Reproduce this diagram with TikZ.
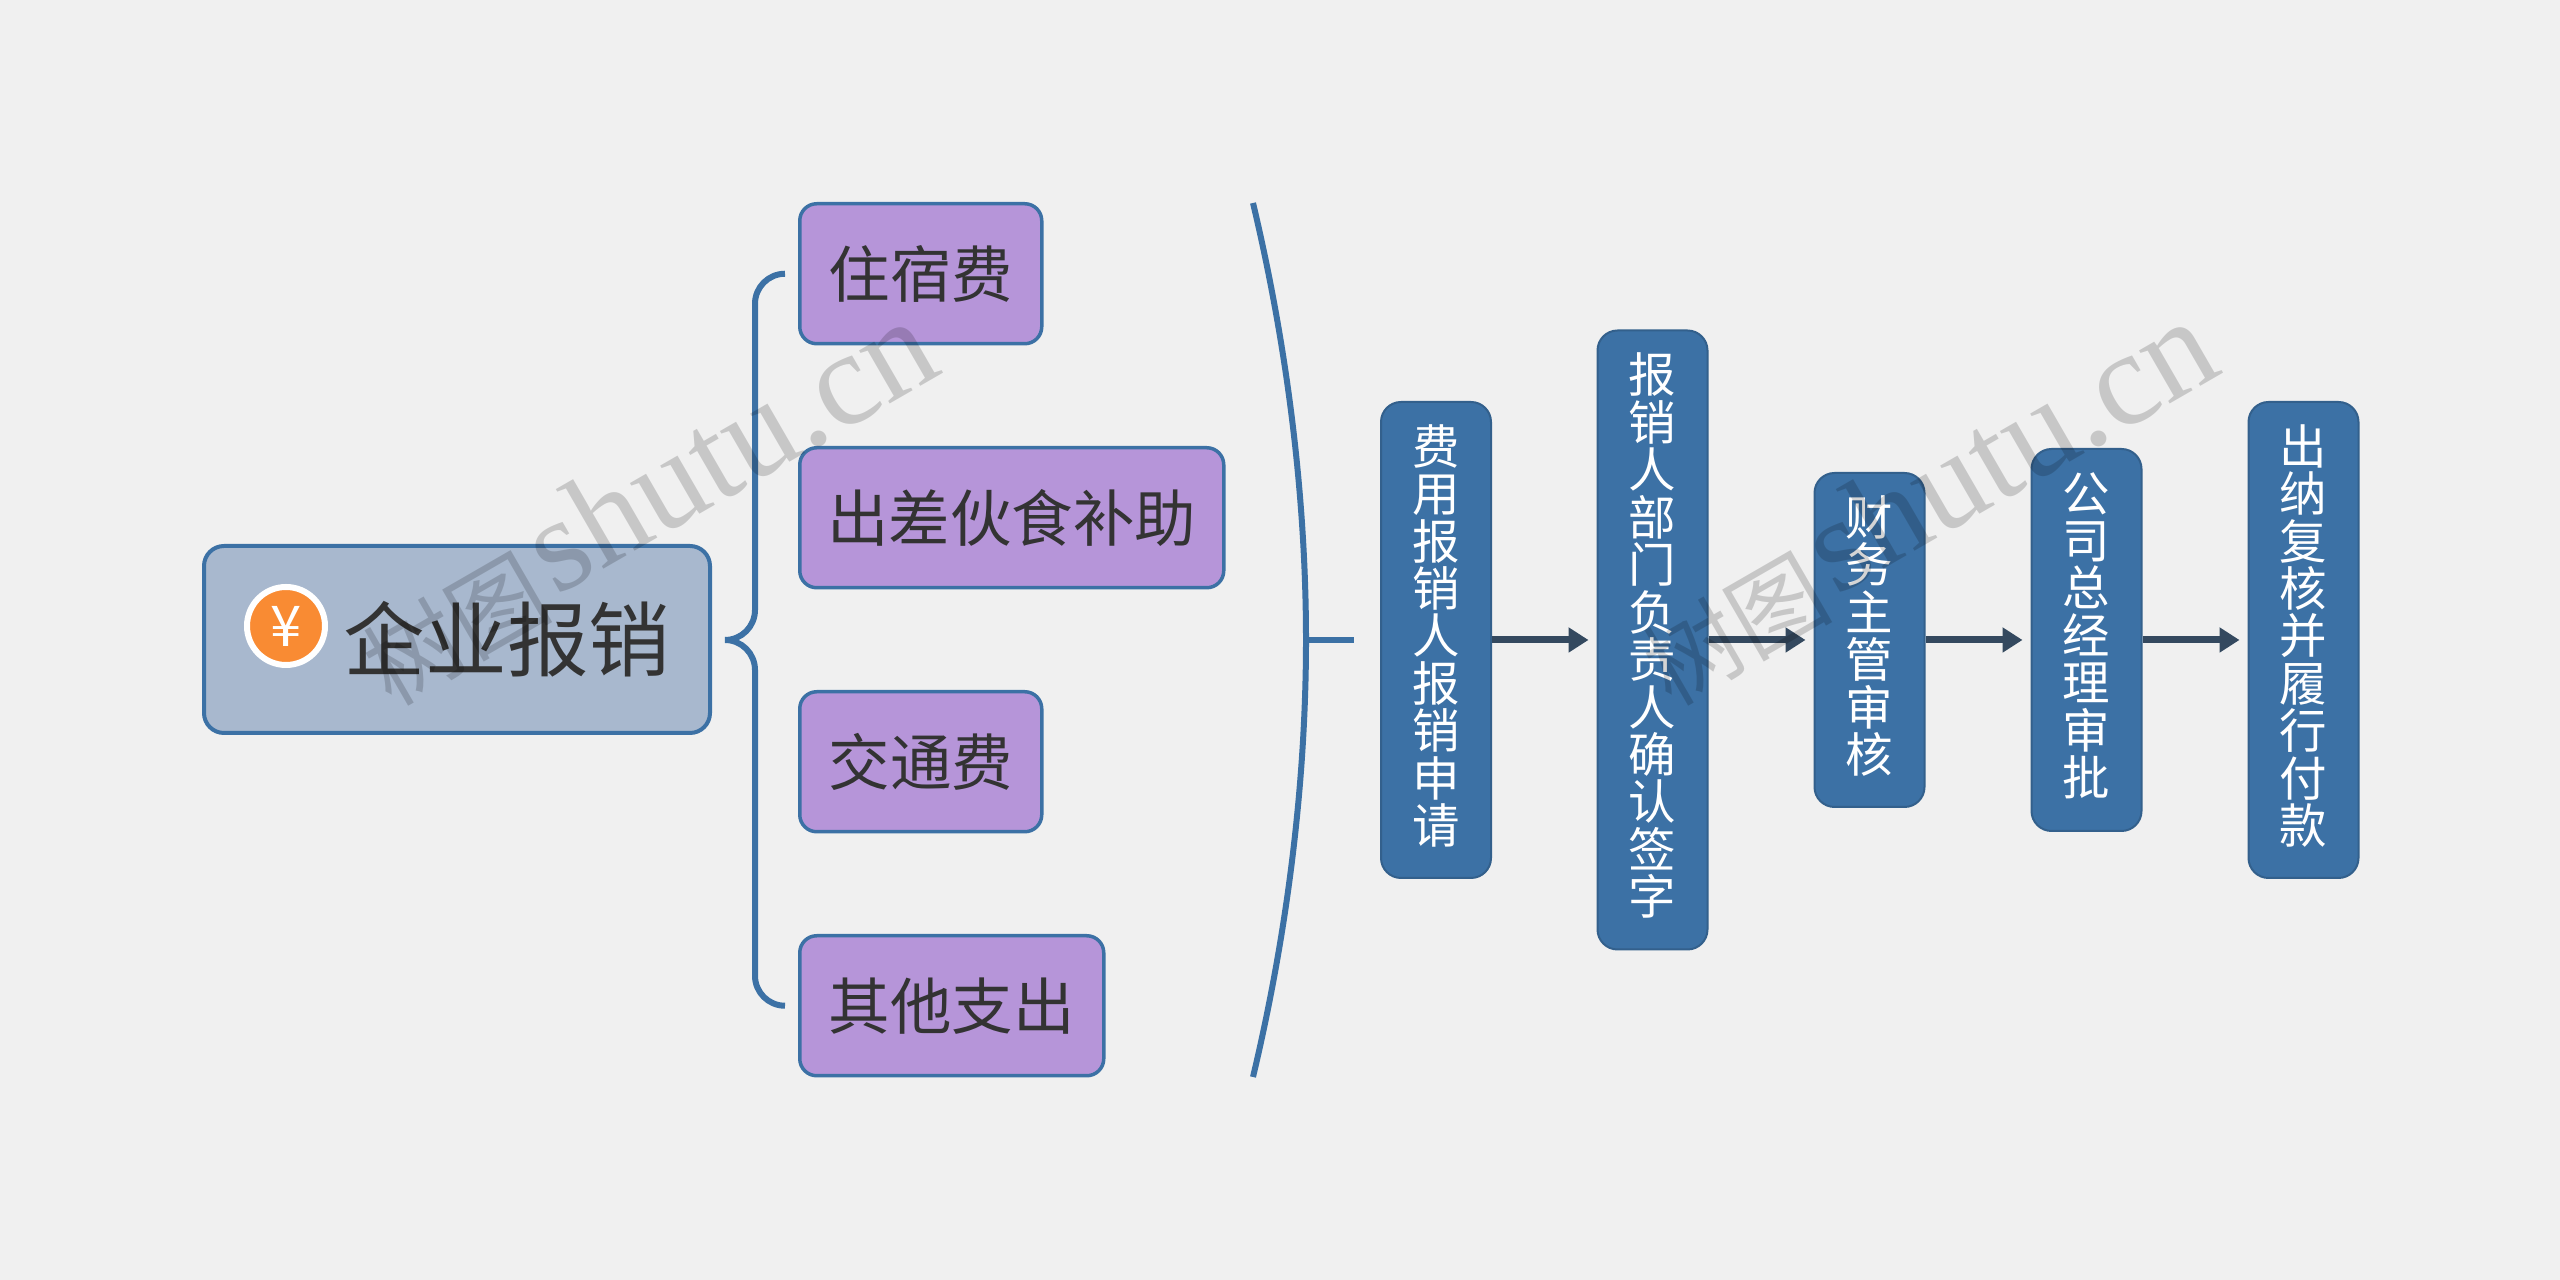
\documentclass[tikz,border=0pt]{standalone}
\usepackage{fontspec}
\setmainfont{Noto Sans CJK SC}
\newfontfamily\markfont{Liberation Serif}
\usetikzlibrary{arrows.meta}
\definecolor{pagebg}{HTML}{F0F0F0}
\definecolor{linkblue}{HTML}{3C71A5}
\definecolor{rootfill}{HTML}{A8B8CE}
\definecolor{itemfill}{HTML}{B695D9}
\definecolor{arrowdark}{HTML}{34495F}
\definecolor{inkdark}{HTML}{333333}
\definecolor{iconorange}{HTML}{F98B33}
\newcommand{\vtext}{\fontsize{13.5}{13.5}\selectfont}
\newcommand{\marktext}{{\rmfamily\fontsize{27}{27}\selectfont\raisebox{-0.13cm}{树图}}\hspace{-0.25cm} shutu.cn}
\begin{document}
\begin{tikzpicture}[x=1cm,y=1cm,>=stealth]
\tikzset{
    rootbox/.style={draw=linkblue,line width=0.4mm,rounded corners=0.2cm,fill=rootfill,minimum width=5.06cm,minimum height=1.87cm,anchor=north west},
    itembox/.style={draw=linkblue,line width=0.35mm,rounded corners=0.17cm,fill=itemfill,minimum height=1.4cm,anchor=north west,inner sep=0pt,text=inkdark,font=\fontsize{17.5}{17.5}\selectfont},
    stepbox/.style={draw=linkblue!85!black,line width=0.2mm,rounded corners=0.2cm,fill=linkblue,minimum width=1.1cm,inner sep=0pt,text=white,align=center,font=\vtext,execute at end node={\rule[-0.12cm]{0pt}{0pt}}},
    link/.style={draw=linkblue,line width=0.6mm},
    flow/.style={-{Triangle[length=0.2cm,width=0.24cm]},draw=arrowdark,line width=0.7mm,shorten >=0.08cm},
    wmark/.style={text=black,opacity=0.17,rotate=30,anchor=base east,inner sep=0pt,font=\markfont\fontsize{38}{38}\selectfont}
}
\fill[pagebg] (0,0) rectangle (25.6,-12.8);
\useasboundingbox (0,0) rectangle (25.6,-12.8);

% central topic
\node[rootbox] (root) at (2.02,-5.44) {};
\node[circle,draw=white,line width=0.6mm,fill=iconorange,minimum size=0.78cm,inner sep=0pt,text=white,font=\fontsize{16}{16}\selectfont] (icon) at (2.86,-6.26) {¥};
\node[text=inkdark,inner sep=0pt,font=\fontsize{23.2}{23.2}\selectfont] (roottext) at (5.07,-6.39) {企业报销};

% expense types
\node[itembox,minimum width=2.42cm] (stay) at (7.98,-2.02) {住宿费};
\node[itembox,minimum width=4.24cm] (meal) at (7.98,-4.46) {出差伙食补助};
\node[itembox,minimum width=2.42cm] (trans) at (7.98,-6.90) {交通费};
\node[itembox,minimum width=3.04cm] (other) at (7.98,-9.34) {其他支出};

% brace
\draw[link] (stay.west)++(-0.13,0) arc[start angle=90,end angle=180,radius=0.3cm] -- (7.55,-6.10)
    arc[start angle=0,end angle=-90,radius=0.3cm];
\draw[link] (other.west)++(-0.13,0) arc[start angle=-90,end angle=-180,radius=0.3cm] -- (7.55,-6.70)
    arc[start angle=0,end angle=90,radius=0.3cm];

% bracket
\coordinate (arctop) at (12.53,-2.03);
\coordinate (arcmid) at (13.06,-6.40);
\coordinate (arcbot) at (12.53,-10.77);
\coordinate (stubend) at (13.54,-6.40);
\draw[link] (arctop) .. controls (12.88,-3.50) and (13.06,-5.00) .. (arcmid)
    .. controls (13.06,-7.80) and (12.88,-9.30) .. (arcbot);
\draw[link] (arcmid) -- (stubend);

% approval steps
\node[stepbox,minimum height=4.76cm] (apply) at (14.36,-6.40) {费\\用\\报\\销\\人\\报\\销\\申\\请};
\node[stepbox,minimum height=6.19cm] (sign) at (16.525,-6.40) {报\\销\\人\\部\\门\\负\\责\\人\\确\\认\\签\\字};
\node[stepbox,minimum height=3.34cm] (check) at (18.695,-6.40) {财\\务\\主\\管\\审\\核};
\node[stepbox,minimum height=3.82cm] (approve) at (20.865,-6.40) {公\\司\\总\\经\\理\\审\\批};
\node[stepbox,minimum height=4.76cm] (pay) at (23.035,-6.40) {出\\纳\\复\\核\\并\\履\\行\\付\\款};

\draw[flow] (apply) -- (sign);
\draw[flow] (sign) -- (check);
\draw[flow] (check) -- (approve);
\draw[flow] (approve) -- (pay);

% watermarks
\node[wmark] (mark1) at (9.46,-3.72) {\marktext};
\node[wmark] (mark2) at (22.26,-3.72) {\marktext};
\end{tikzpicture}
\end{document}
